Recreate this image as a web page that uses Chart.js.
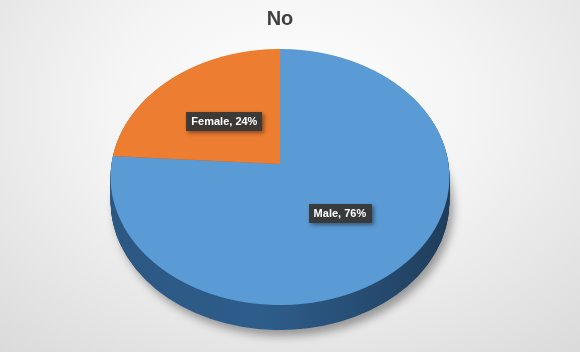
<!DOCTYPE html>
<html>
<head>
<meta charset="utf-8">
<script src="https://cdn.jsdelivr.net/npm/chart.js@4"></script>
<style>
html, body { margin: 0; padding: 0; }
body {
	width: 580px; height: 352px; overflow: hidden;
	background: radial-gradient(ellipse 80% 95% at 50% 30%, #ffffff 0%, #f4f4f4 40%, #d9d9d9 100%);
}
#wrap { position: relative; width: 580px; height: 352px; }
</style>
</head>
<body>
<div id="wrap"><canvas id="pie"></canvas></div>
<script>
const categories = ['Male', 'Female'];
const shares = [76, 24];
const topColors = ['#5B9BD5', '#ED7D31'];
// side wall shading, left -> middle -> right
const sideColors = [['#2c5782', '#2e5d8b', '#1f3c59'], ['#a5561f', '#b35e22', '#8a4719']];

// tilted pie: projected centre, half sizes, perspective tilt, wall height
const PX = 280, PY = 164, SX = 168.5, SY = 126.7, TILT = 0.1015, DEPTH = 25, LABEL_DY = 2;

function projY(v) { return PY + SY * v / (1 - TILT * v); }
function unprojY(y) { const d = y - PY; return d / (SY + TILT * d); }

function project(a, x, y) {
	const u = (x - a.x) / a.outerRadius, v = (y - a.y) / a.outerRadius;
	const w = 1 - TILT * v;
	return { x: PX + SX * u / w, y: PY + SY * v / w };
}

// draw an arc element with another fill
function paint(ctx, arc, fill) {
	const ghost = Object.create(arc);
	ghost.options = Object.assign({}, arc.options, { backgroundColor: fill });
	arc.draw.call(ghost, ctx);
}

// perspective is done one pixel row at a time, each row stretched to `height`
function drawRows(chart, arcs, fills, height) {
	const ctx = chart.ctx;
	const a = arcs[0], r = a.outerRadius;
	const top = Math.floor(projY(-1)), bottom = Math.ceil(projY(1));
	for (let y = top; y < bottom; y++) {
		const v0 = unprojY(y), v1 = unprojY(y + 1);
		const w = 1 - TILT * (v0 + v1) / 2;
		const ya0 = a.y + v0 * r, ya1 = a.y + v1 * r;
		const sx = SX / (r * w), sy = height / (ya1 - ya0);
		ctx.save();
		ctx.setTransform(1, 0, 0, 1, 0, 0);
		ctx.beginPath();
		ctx.rect(0, y, chart.width, height);
		ctx.clip();
		ctx.setTransform(sx, 0, 0, sy, PX - a.x * sx, y - ya0 * sy);
		arcs.forEach((arc, i) => paint(ctx, arc, fills[i]));
		ctx.restore();
	}
}

const tiltPlugin = {
	id: 'tilt',
	beforeDatasetDraw(chart, args) {
		const ctx = chart.ctx;
		const arcs = args.meta.data;
		const a = arcs[0], r = a.outerRadius;
		const sideFills = arcs.map((arc, i) => {
			const g = ctx.createLinearGradient(a.x - r, 0, a.x + r, 0);
			g.addColorStop(0, sideColors[i][0]);
			g.addColorStop(0.45, sideColors[i][1]);
			g.addColorStop(1, sideColors[i][2]);
			return g;
		});

		// soft drop shadow under the base
		const cy = (projY(-1) + projY(1)) / 2;
		const ry = (projY(1) - projY(-1)) / 2;
		const rx = SX / Math.sqrt(1 - TILT * TILT);
		ctx.save();
		ctx.shadowColor = 'rgba(0,0,0,0.35)';
		ctx.shadowBlur = 9;
		ctx.shadowOffsetX = 4;
		ctx.shadowOffsetY = 6;
		ctx.translate(PX, cy + DEPTH);
		ctx.scale(rx / r, ry / r);
		ctx.translate(-a.x, -a.y);
		arcs.forEach((arc, i) => paint(ctx, arc, sideFills[i]));
		ctx.restore();

		drawRows(chart, arcs, sideFills, DEPTH + 1);
		drawRows(chart, arcs, topColors, 1);
		return false;
	},
	afterDatasetsDraw(chart) {
		const ctx = chart.ctx;
		const arcs = chart.getDatasetMeta(0).data;
		ctx.save();
		ctx.font = 'bold 11px "Liberation Sans", Arial, sans-serif';
		ctx.textAlign = 'center';
		ctx.textBaseline = 'middle';
		arcs.forEach((arc, i) => {
			const p = arc.tooltipPosition();
			const s = project(arcs[0], p.x, p.y);
			s.y += LABEL_DY;
			const text = `${categories[i]}, ${shares[i]}%`;
			const w = ctx.measureText(text).width + 10;
			const h = 19;
			ctx.save();
			ctx.shadowColor = 'rgba(0,0,0,0.45)';
			ctx.shadowBlur = 4;
			ctx.shadowOffsetX = 2;
			ctx.shadowOffsetY = 2;
			ctx.fillStyle = 'rgba(56,56,56,0.95)';
			ctx.fillRect(Math.round(s.x - w / 2), Math.round(s.y - h / 2), Math.round(w), h);
			ctx.restore();
			ctx.fillStyle = '#ffffff';
			ctx.fillText(text, s.x, s.y + 0.5);
		});
		ctx.restore();
	}
};

new Chart(document.getElementById('pie'), {
	type: 'pie',
	data: {
		labels: categories,
		datasets: [{
			data: shares,
			backgroundColor: topColors,
			borderWidth: 0
		}]
	},
	options: {
		responsive: true,
		maintainAspectRatio: false,
		animation: false,
		layout: { padding: { right: 20 } },
		plugins: {
			legend: { display: false },
			tooltip: { enabled: false },
			title: {
				display: true,
				text: 'No',
				color: '#404040',
				font: { size: 20, weight: 'bold', family: '"Liberation Sans", Arial, sans-serif' },
				padding: { top: 7, bottom: 10 }
			}
		}
	},
	plugins: [tiltPlugin]
});
</script>
</body>
</html>
